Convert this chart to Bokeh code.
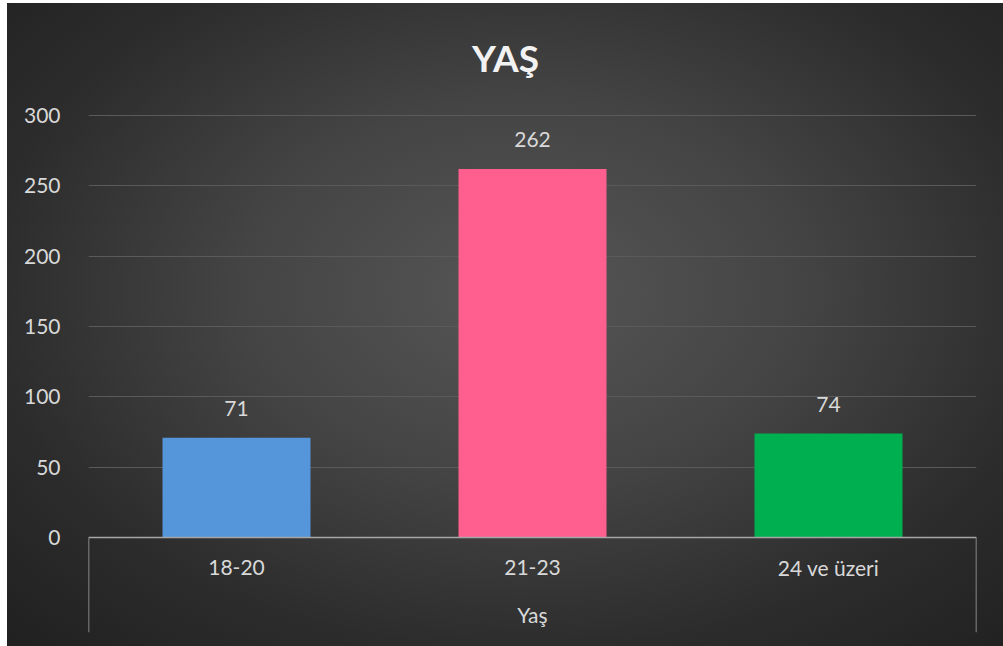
from bokeh.plotting import figure
from bokeh.models import FactorRange, Range1d, FixedTicker, Span, Label
from bokeh.core.properties import value
from bokeh.embed import file_html
from bokeh.resources import INLINE

title_text = "YAŞ"
x_group_label = "Yaş"
categories = ["18-20", "21-23", "24 ve üzeri"]
counts = [71, 262, 74]
bar_colors = ["#5596DA", "#FF5F8F", "#00B050"]
y_ticks = [0, 50, 100, 150, 200, 250, 300]

FONT = "Lato"
y_max = 381.7   # frame reaches the top edge, room for the title
y_min = -67.5   # room for the category box below the axis

p = figure(
    width=1003, height=646,
    x_range=FactorRange(factors=categories, range_padding=0),
    y_range=Range1d(y_min, y_max),
    x_axis_location=None,
    output_backend="svg", toolbar_location=None,
    min_border_left=88, min_border_right=27, min_border_top=0, min_border_bottom=14,
)
p.styles = {"background": (
    "linear-gradient(to right, #ffffff 7px, rgba(255,255,255,0) 7px), "
    "linear-gradient(to bottom, #ffffff 3px, rgba(255,255,255,0) 3px), "
    "radial-gradient(ellipse farthest-corner at 52% 45%, #565656 0%, #444444 38%, #2c2c2c 72%, #202020 100%)"
)}
p.background_fill_alpha = 0
p.border_fill_alpha = 0
p.outline_line_color = None

n = len(categories)

# title (centred over the whole chart area)
p.add_layout(Label(
    x=n / 2, y=y_ticks[-1], x_offset=-27, y_offset=58, text=title_text,
    text_align="center", text_baseline="alphabetic",
    text_font=FONT, text_font_size="37px", text_font_style="bold",
    text_color="#f2f2f2"))

# y axis
p.yaxis.ticker = FixedTicker(ticks=y_ticks)
p.yaxis.axis_line_color = None
p.yaxis.major_tick_line_color = None
p.yaxis.minor_tick_line_color = None
p.yaxis.major_label_text_font = FONT
p.yaxis.major_label_text_font_size = "21px"
p.yaxis.major_label_text_color = "#d9d9d9"
p.yaxis.major_label_standoff = 22

p.xgrid.visible = False
p.ygrid.ticker = FixedTicker(ticks=y_ticks)
p.ygrid.grid_line_color = "#5a5a5a"
p.ygrid.grid_line_width = 1.2

# bars
p.vbar(x=categories, top=counts, width=0.5, fill_color=bar_colors, line_color=None)

# data labels
p.text(x=categories, y=counts, text=[str(v) for v in counts],
       text_align="center", text_baseline="middle", y_offset=-29,
       text_font=value(FONT), text_font_size="21px", text_color="#d9d9d9")

# category axis line and box
axis_col = "#a6a6a6"
p.add_layout(Span(location=0, dimension="width", line_color=axis_col, line_width=1.5))
p.segment(x0=[0, n], y0=[0, 0], x1=[0, n], y1=[y_min, y_min],
          line_color=axis_col, line_width=1.5)

# category labels
p.text(x=categories, y=[0] * n, text=categories,
       text_align="center", text_baseline="middle", y_offset=30,
       text_font=value(FONT), text_font_size="21px", text_color="#d9d9d9")
p.text(x=[n / 2], y=[0], text=[x_group_label],
       text_align="center", text_baseline="middle", y_offset=77,
       text_font=value(FONT), text_font_size="21px", text_color="#d9d9d9")

open("out.html", "w").write(file_html(p, INLINE))
